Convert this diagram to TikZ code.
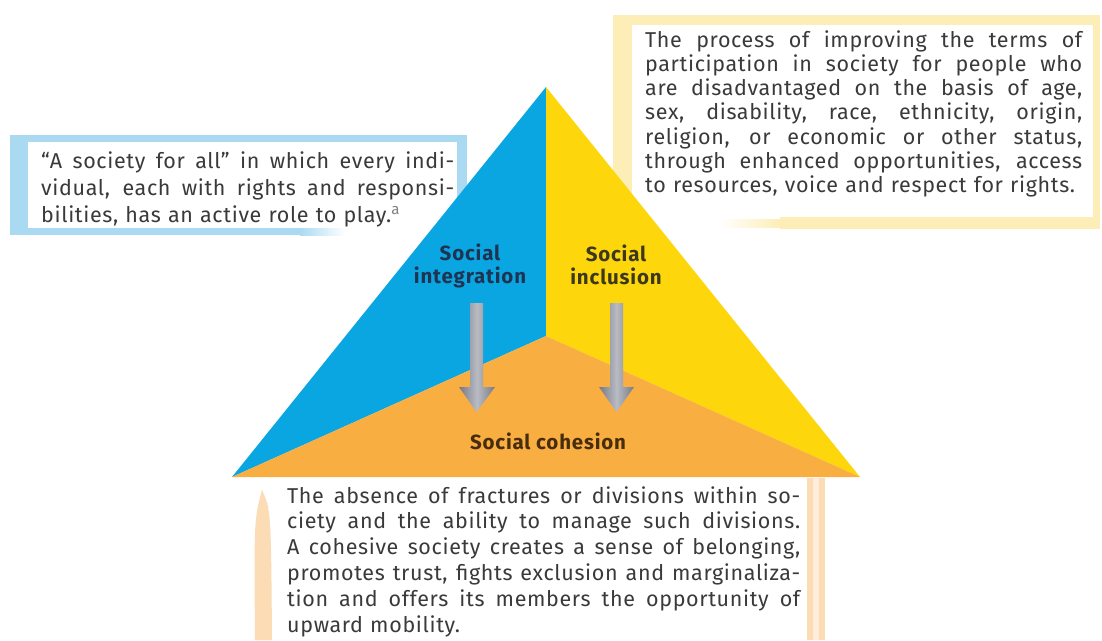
\documentclass[tikz,border=0pt]{standalone}
\usepackage{fontspec}
\setmainfont{Fira Sans}[LetterSpace=3]
\definecolor{socblue}{RGB}{10,166,226}
\definecolor{socyellow}{RGB}{253,214,12}
\definecolor{socorange}{RGB}{248,174,64}
\definecolor{bluepale}{RGB}{170,218,242}
\definecolor{yellowpale}{RGB}{253,238,184}
\definecolor{orangepale}{RGB}{252,220,180}
\definecolor{bodygrey}{RGB}{58,58,58}
\definecolor{integcol}{RGB}{30,52,82}
\definecolor{inclcol}{RGB}{60,56,28}
\definecolor{cohescol}{RGB}{72,44,14}
\definecolor{barlight}{RGB}{186,188,196}
\definecolor{bardark}{RGB}{118,120,132}
\newlength{\linew}
\newcommand{\fullline}[1]{\leavevmode\hbox to \linew{\spaceskip=\fontdimen2\font plus 1fil minus \fontdimen4\font\relax #1}}
\tikzset{
  boxtext/.style={anchor=base west, inner sep=0pt, align=left, text=bodygrey,
    text width=#1, execute at begin node={\setlength{\linew}{#1}}},
  sockey/.style={inner sep=0pt, align=center,
    font=\fontsize{20.5}{22.5}\selectfont\bfseries\addfontfeatures{LetterSpace=4}},
  bar/.style={left color=bardark, right color=bardark, middle color=barlight}
}
\begin{document}
\begin{tikzpicture}[x=1pt,y=-1pt]
  \useasboundingbox (0,0) rectangle (1102,640);
  \fill[white] (0,0) rectangle (1102,640);

  \fill[bluepale] (10,135) rectangle (467,228);
  \fill[bluepale] (10,228) rectangle (300,235);
  \shade[left color=bluepale, right color=white] (300,228) rectangle (345,235);
  \fill[white] (28,142) rectangle (457,228);

  \fill[yellowpale] (613,15) rectangle (1100,217);
  \fill[yellowpale] (780,217) rectangle (1100,229);
  \shade[left color=white, right color=yellowpale] (720,219) rectangle (780,227);
  \fill[white] (632,25) rectangle (1093,217);

  \fill[orangepale] (807,478) rectangle (825,640);
  \fill[orangepale!50!white] (813,478) rectangle (819,640);
  \fill[orangepale] (262,490) .. controls (271,510) .. (272,640)
    -- (255,640) .. controls (254,520) .. (262,490);

  \coordinate (apex) at (546,87);
  \coordinate (left) at (232,477);
  \coordinate (right) at (860,477);
  \coordinate (centre) at (546,336);
  \fill[socblue] (apex) -- (left) -- (centre) -- cycle;
  \fill[socyellow] (apex) -- (right) -- (centre) -- cycle;
  \fill[socorange] (left) -- (centre) -- (right) -- cycle;

  \shade[bar] (470,303) -- (483,303) -- (483,387) -- (495,387) -- (476.5,412)
    -- (459,387) -- (470,387) -- cycle;
  \shade[bar] (610,303) -- (623,303) -- (623,387) -- (634,387) -- (616.5,412)
    -- (599,387) -- (610,387) -- cycle;

  \node[sockey, text=integcol] (integ) at (470,266) {Social\\integration};
  \node[sockey, text=inclcol] (incl) at (616,265) {Social\\inclusion};
  \node[sockey, text=cohescol] (cohes) at (548,441) {Social cohesion};

  \node[boxtext=413pt, font=\fontsize{21.5}{27}\selectfont] (allbox) at (41,168)
    {\fullline{“A society for all” in which every indi-}\\
     \fullline{vidual, each with rights and responsi-}\\
     bilities, has an active role to play.\textsuperscript{\color{gray}a}};
  \node[boxtext=437pt, font=\fontsize{21.5}{24.3}\selectfont] (inclbox) at (645,47)
    {\fullline{The process of improving the terms of}\\
     \fullline{participation in society for people who}\\
     \fullline{are disadvantaged on the basis of age,}\\
     \fullline{sex, disability, race, ethnicity, origin,}\\
     \fullline{religion, or economic or other status,}\\
     \fullline{through enhanced opportunities, access}\\
     to resources, voice and respect for rights.};
  \node[boxtext=513pt, font=\fontsize{21.5}{25.8}\selectfont] (cohesbox) at (287,503)
    {\fullline{The absence of fractures or divisions within so-}\\
     \fullline{ciety and the ability to manage such divisions.}\\
     \fullline{A cohesive society creates a sense of belonging,}\\
     \fullline{promotes trust, fights exclusion and marginaliza-}\\
     \fullline{tion and offers its members the opportunity of}\\
     upward mobility.};
\end{tikzpicture}
\end{document}
